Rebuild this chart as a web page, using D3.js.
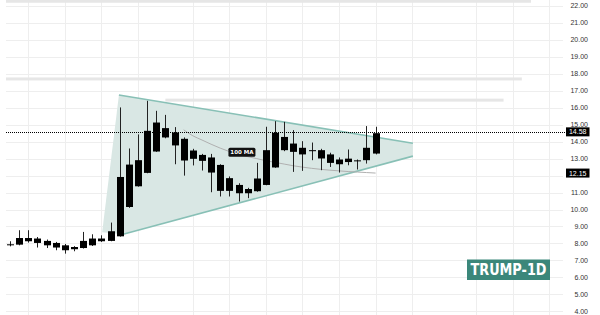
<!DOCTYPE html>
<html>
<head>
<meta charset="utf-8">
<script src="https://cdn.jsdelivr.net/npm/d3@7"></script>
<style>
  body { margin: 0; background: #fff; }
  svg { display: block; }
  .price-label { font-family: "Liberation Sans", Arial, sans-serif; font-size: 7px; fill: #333; }
  .box-label { font-family: "Liberation Sans", Arial, sans-serif; font-size: 7px; fill: #fff; }
  .ma-label { font-family: "DejaVu Sans", sans-serif; font-size: 5.5px; font-weight: bold; fill: #fff; }
  .title-label { font-family: "DejaVu Sans", sans-serif; font-size: 15px; font-weight: bold; fill: #fff; }
</style>
</head>
<body>
<div id="chart"></div>
<script>
// TRUMP daily candles, 11 Apr - 21 May 2025
const dates = [
  "2025-04-11", "2025-04-12", "2025-04-13", "2025-04-14", "2025-04-15", "2025-04-16", "2025-04-17",
  "2025-04-18", "2025-04-19", "2025-04-20", "2025-04-21", "2025-04-22", "2025-04-23", "2025-04-24",
  "2025-04-25", "2025-04-26", "2025-04-27", "2025-04-28", "2025-04-29", "2025-04-30", "2025-05-01",
  "2025-05-02", "2025-05-03", "2025-05-04", "2025-05-05", "2025-05-06", "2025-05-07", "2025-05-08",
  "2025-05-09", "2025-05-10", "2025-05-11", "2025-05-12", "2025-05-13", "2025-05-14", "2025-05-15",
  "2025-05-16", "2025-05-17", "2025-05-18", "2025-05-19", "2025-05-20", "2025-05-21"
];
const open = [
  7.92, 7.93, 8.32, 8.29, 8.15, 8.03, 7.89, 7.66, 7.73, 7.89, 8.29, 8.15, 8.42, 12.65,
  11.37, 12.16, 15.13, 14.80, 14.54, 14.17, 13.48, 13.22, 13.07, 12.63, 11.85, 11.45, 10.96,
  11.08, 11.45, 12.48, 14.28, 13.89, 13.64, 13.44, 13.50, 13.25, 12.95, 12.80, 12.90, 12.91, 13.30
];
const high = [
  8.13, 8.78, 8.78, 8.38, 8.23, 8.09, 7.97, 7.84, 8.68, 8.54, 8.48, 9.23, 16.02, 13.60,
  14.43, 16.41, 15.82, 15.58, 14.86, 14.25, 13.58, 13.28, 13.28, 12.67, 11.95, 11.55, 11.28,
  12.75, 14.88, 15.21, 15.17, 14.68, 14.03, 13.95, 13.58, 13.35, 13.07, 13.54, 12.95, 14.92, 14.88
];
const low = [
  7.83, 7.89, 8.05, 7.76, 7.73, 7.60, 7.40, 7.54, 7.70, 7.85, 8.09, 8.13, 8.40, 10.10,
  11.35, 12.14, 13.40, 14.20, 12.67, 12.00, 12.60, 12.30, 11.02, 10.77, 10.77, 10.47, 10.67,
  11.05, 11.43, 12.46, 13.44, 12.22, 12.28, 12.91, 12.32, 12.51, 12.18, 12.61, 12.36, 12.71, 13.25
];
const close = [
  7.95, 8.32, 8.13, 8.03, 7.89, 7.76, 7.60, 7.79, 8.15, 8.29, 8.13, 8.72, 11.92, 10.15,
  12.91, 14.64, 13.42, 14.25, 13.78, 12.89, 12.99, 12.87, 12.18, 11.10, 11.10, 10.96, 11.21,
  11.83, 13.50, 14.52, 13.50, 13.40, 13.25, 13.50, 13.01, 12.75, 12.67, 13.00, 12.87, 13.64, 14.50
];

// 100 MA, visible from 30 Apr
const maDates = dates.slice(19);
const maValues = [
  14.70, 14.35, 14.10, 13.85, 13.62, 13.42, 13.25, 13.12, 13.00, 12.88, 12.78,
  12.68, 12.58, 12.50, 12.43, 12.37, 12.32, 12.28, 12.24, 12.21, 12.18, 12.15
];

// 12.00 sits under the MA price tag, so it is not printed
const priceTicks = [4, 5, 6, 7, 8, 9, 10, 11, 12, 13, 14, 15, 16, 17, 18, 19, 20, 21, 22];
const priceLabels = [4, 5, 6, 7, 8, 9, 10, 11, 13, 14, 15, 16, 17, 18, 19, 20, 21, 22];
const gridDates = [
  "2025-04-13", "2025-04-17", "2025-04-21", "2025-04-25", "2025-05-01", "2025-05-05", "2025-05-09",
  "2025-05-13", "2025-05-17", "2025-05-21", "2025-05-25", "2025-06-01", "2025-06-05", "2025-06-09"
];

// horizontal levels drawn on the chart
const levelPrices = [22.28, 17.70, 16.45];
const levelStart = ["2025-03-01", "2025-03-01", "2025-04-28"];
const levelEnd = ["2025-06-07", "2025-06-06", "2025-06-04"];

// triangle pattern
const triangleDates = ["2025-04-22T22:00", "2025-05-25T02:00", "2025-05-25T02:00", "2025-04-23T09:00", "2025-04-21T02:00"];
const trianglePrices = [16.75, 13.91, 13.15, 8.54, 8.66];

const lastPrice = 14.58;
const lastMA = 12.15;

let width = 600,
  height = 315,
  plotLeft = 6,
  plotRight = 563;

let parse = d3.utcParse("%Y-%m-%d"),
  parseT = d3.utcParse("%Y-%m-%dT%H:%M");

let candles = dates.map((d, i) => ({
  date: parse(d), open: open[i], high: high[i], low: low[i], close: close[i]
}));

let x = d3.scaleUtc()
  .domain([parse(dates[0]), parse(dates[dates.length - 1])])
  .range([10, 375.6]);
let y = d3.scaleLinear().domain([4, 22]).range([311.3, 6]);

let svg = d3.select("#chart")
  .append("svg")
  .attr("width", width)
  .attr("height", height);

svg.append("clipPath")
  .attr("id", "plot-clip")
  .append("rect")
  .attr("x", plotLeft)
  .attr("y", 0)
  .attr("width", plotRight - plotLeft)
  .attr("height", height);

let plot = svg.append("g").attr("clip-path", "url(#plot-clip)");

// grid
plot.selectAll(".hgrid")
  .data(priceTicks)
  .enter().append("line")
  .attr("x1", plotLeft)
  .attr("x2", plotRight)
  .attr("y1", d => Math.round(y(d)) + 0.5)
  .attr("y2", d => Math.round(y(d)) + 0.5)
  .attr("stroke", "#eeeeee");

plot.selectAll(".vgrid")
  .data(gridDates)
  .enter().append("line")
  .attr("x1", d => Math.round(x(parse(d))) + 0.5)
  .attr("x2", d => Math.round(x(parse(d))) + 0.5)
  .attr("y1", 0)
  .attr("y2", height)
  .attr("stroke", "#eeeeee");

// gray levels
plot.selectAll(".level")
  .data(levelPrices)
  .enter().append("rect")
  .attr("x", (d, i) => x(parse(levelStart[i])))
  .attr("y", d => y(d) - 1.5)
  .attr("width", (d, i) => x(parse(levelEnd[i])) - x(parse(levelStart[i])))
  .attr("height", 3)
  .attr("fill", "#e6e6e6");

// triangle
let triPts = triangleDates.map((d, i) => [x(parseT(d)), y(trianglePrices[i])]);

plot.append("polygon")
  .attr("points", triPts.map(p => p.join(",")).join(" "))
  .attr("fill", "#d9e7e4");

plot.append("line")
  .attr("x1", triPts[0][0]).attr("y1", triPts[0][1])
  .attr("x2", triPts[1][0]).attr("y2", triPts[1][1])
  .attr("stroke", "#88c0b6")
  .attr("stroke-width", 1.6);

plot.append("line")
  .attr("x1", triPts[3][0]).attr("y1", triPts[3][1])
  .attr("x2", triPts[2][0]).attr("y2", triPts[2][1])
  .attr("stroke", "#88c0b6")
  .attr("stroke-width", 1.6);

// moving average
let maLine = d3.line()
  .x((d, i) => x(parse(maDates[i])))
  .y(d => y(d))
  .curve(d3.curveMonotoneX);

plot.append("path")
  .datum(maValues)
  .attr("d", maLine)
  .attr("fill", "none")
  .attr("stroke", "#b0b0b0")
  .attr("stroke-width", 1);

// candles
let candle = plot.selectAll(".candle")
  .data(candles)
  .enter().append("g")
  .attr("class", "candle");

candle.append("line")
  .attr("x1", d => Math.round(x(d.date)) + 0.5)
  .attr("x2", d => Math.round(x(d.date)) + 0.5)
  .attr("y1", d => y(d.high))
  .attr("y2", d => y(d.low))
  .attr("stroke", "#222");

candle.append("rect")
  .attr("x", d => Math.round(x(d.date)) - 3)
  .attr("y", d => y(Math.max(d.open, d.close)))
  .attr("width", 7)
  .attr("height", d => Math.max(1, Math.abs(y(d.open) - y(d.close))))
  .attr("fill", "#000");

// MA label
let maLabelDate = parseT("2025-05-06T09:00");
plot.append("rect")
  .attr("x", x(maLabelDate) - 13.5)
  .attr("y", y(13.38) - 4.5)
  .attr("width", 27)
  .attr("height", 9)
  .attr("rx", 1.5)
  .attr("fill", "#111");
plot.append("text")
  .attr("class", "ma-label")
  .attr("x", x(maLabelDate))
  .attr("y", y(13.38))
  .attr("dy", "0.36em")
  .attr("text-anchor", "middle")
  .text("100 MA");

// last price line
svg.append("line")
  .attr("x1", plotLeft)
  .attr("x2", 566)
  .attr("y1", Math.round(y(lastPrice)) + 0.5)
  .attr("y2", Math.round(y(lastPrice)) + 0.5)
  .attr("stroke", "#000")
  .attr("stroke-dasharray", "1,1");

// price axis
svg.selectAll(".price-label")
  .data(priceLabels)
  .enter().append("text")
  .attr("class", "price-label")
  .attr("x", 588)
  .attr("y", d => y(d))
  .attr("dy", "0.35em")
  .attr("text-anchor", "end")
  .text(d => d3.format(".2f")(d));

[lastPrice, lastMA].forEach(v => {
  svg.append("rect")
    .attr("x", 566)
    .attr("y", y(v) - 4.5)
    .attr("width", 23.5)
    .attr("height", 9)
    .attr("fill", "#000");
  svg.append("text")
    .attr("class", "box-label")
    .attr("x", 577.7)
    .attr("y", y(v))
    .attr("dy", "0.35em")
    .attr("text-anchor", "middle")
    .text(d3.format(".2f")(v));
});

// symbol tag
svg.append("rect")
  .attr("x", 467)
  .attr("y", 259.5)
  .attr("width", 83)
  .attr("height", 20.5)
  .attr("fill", "#3b877a");
svg.append("text")
  .attr("class", "title-label")
  .attr("x", 508.5)
  .attr("y", 270)
  .attr("dy", "0.36em")
  .attr("text-anchor", "middle")
  .attr("textLength", 76)
  .attr("lengthAdjust", "spacingAndGlyphs")
  .text("TRUMP-1D");
</script>
</body>
</html>
